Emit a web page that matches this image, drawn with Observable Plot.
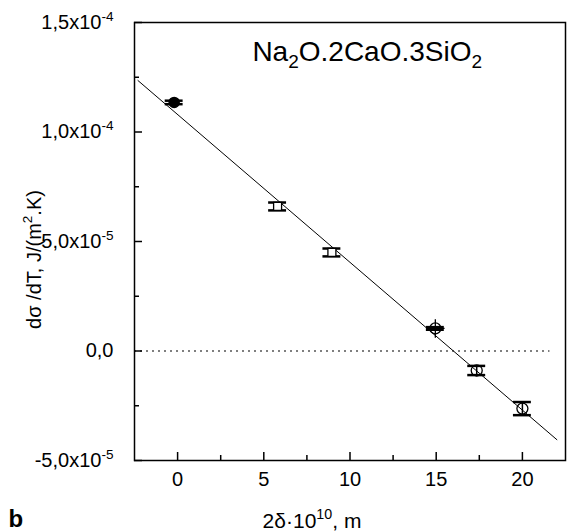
<!DOCTYPE html>
<html><head><meta charset="utf-8">
<script src="https://cdn.jsdelivr.net/npm/d3@7"></script>
<script src="https://cdn.jsdelivr.net/npm/@observablehq/plot@0.6"></script>
<style>body{margin:0;background:#fff}</style>
</head><body><div id="chart"></div>
<script>
// Data
const xs = [-0.2, 5.8, 8.95, 14.95, 17.35, 20.0];
const ys = [1.135e-4, 6.6e-5, 4.5e-5, 1.03e-5, -8.9e-6, -2.63e-5];
const errs = [0.8e-6, 1.8e-6, 1.8e-6, 0.6e-6, 2.1e-6, 3.0e-6];
const markers = ["filled", "square", "square", "crossed", "circle", "circle"];

const fitX = [-2.3, 22.0];
const fitY = [1.235e-4, -4.05e-5];

const zeroX = [-2.5, 21.6];

const xMajor = [0, 5, 10, 15, 20];
const xMinor = [2.5, 7.5, 12.5, 17.5];
const yMajor = [1.5e-4, 1.0e-4, 5.0e-5, 0, -5.0e-5];
const yLabels = ["1,5x10^{-4}", "1,0x10^{-4}", "5,0x10^{-5}", "0,0", "-5,0x10^{-5}"];
const yMinor = [1.25e-4, 7.5e-5, 2.5e-5, -2.5e-5];

const title = "Na_{2}O.2CaO.3SiO_{2}";
const xLabel = "2δ·10^{10}, m";
const yLabel = "dσ /dT, J/(m^{2}.K)";
const panel = "b";

const points = xs.map((x, i) => ({x, y: ys[i], err: errs[i], marker: markers[i]}));
const fit = fitX.map((x, i) => ({x, y: fitY[i]}));
const yLabelMap = new Map(yMajor.map((v, i) => [v, yLabels[i]]));
const capHalf = 0.52;

const W = 569, H = 531, ML = 134, MR = 4, MT = 22, MB = 71;
const frameW = W - ML - MR, frameH = H - MT - MB;

const chart = Plot.plot({
  width: W,
  height: H,
  marginLeft: ML,
  marginRight: MR,
  marginTop: MT,
  marginBottom: MB,
  style: {fontFamily: "Arial, 'Liberation Sans', sans-serif", fontSize: "20px", color: "black", background: "white"},
  x: {domain: [-2.5, 22.5], axis: null},
  y: {domain: [-5e-5, 1.5e-4], axis: null},
  marks: [
    Plot.ruleY([0], {x1: zeroX[0], x2: zeroX[1], stroke: "black", strokeWidth: 1.2, strokeDasharray: "2,4"}),
    Plot.line(fit, {x: "x", y: "y", stroke: "black", strokeWidth: 1}),
    Plot.ruleX(points, {x: "x", y1: d => d.y - d.err, y2: d => d.y + d.err, stroke: "black", strokeWidth: 1.5}),
    Plot.ruleY(points, {y: d => d.y + d.err, x1: d => d.x - capHalf, x2: d => d.x + capHalf, stroke: "black", strokeWidth: 2.5}),
    Plot.ruleY(points, {y: d => d.y - d.err, x1: d => d.x - capHalf, x2: d => d.x + capHalf, stroke: "black", strokeWidth: 2.5}),
    Plot.dot(points.filter(d => d.marker === "filled"), {x: "x", y: "y", r: 5, symbol: "circle", fill: "black", stroke: "black"}),
    Plot.dot(points.filter(d => d.marker === "square"), {x: "x", y: "y", r: 4.5, symbol: "square", fill: "white", stroke: "black", strokeWidth: 1.3}),
    Plot.dot(points.filter(d => d.marker === "circle" || d.marker === "crossed"), {x: "x", y: "y", r: 5.5, symbol: "circle", fill: "none", stroke: "black", strokeWidth: 1.3}),
    Plot.dot(points.filter(d => d.marker === "crossed"), {x: "x", y: "y", r: 6, symbol: "plus", stroke: "black", strokeWidth: 1.3}),
    Plot.text([title], {x: 11.0, y: 1.363e-4, text: d => d, fontSize: 28, textAnchor: "middle"}),
    Plot.text([panel], {frameAnchor: "bottom-left", dx: -126, dy: 66, text: d => d, fontSize: 24, fontWeight: "bold", textAnchor: "start", lineAnchor: "bottom"}),
    // inward ticks
    Plot.tickX(xMajor, {x: d => d, insetTop: frameH - 8, stroke: "black", strokeWidth: 1.5}),
    Plot.tickX(xMinor, {x: d => d, insetTop: frameH - 5, stroke: "black", strokeWidth: 1.5}),
    Plot.tickY(yMajor, {y: d => d, insetRight: frameW - 8, stroke: "black", strokeWidth: 1.5}),
    Plot.tickY(yMinor, {y: d => d, insetRight: frameW - 5, stroke: "black", strokeWidth: 1.5}),
    // tick labels
    Plot.axisX(xMajor, {tickSize: 0, tickPadding: 11, fontSize: 20, label: null}),
    Plot.axisY(yMajor, {tickSize: 0, tickPadding: 21, fontSize: 20, tickFormat: d => yLabelMap.get(d), label: null}),
    // axis titles
    Plot.text([xLabel], {frameAnchor: "bottom", dx: -38, dy: 67, text: d => d, fontSize: 21, textAnchor: "middle", lineAnchor: "bottom"}),
    Plot.text([yLabel], {frameAnchor: "left", dx: -94, dy: 18, rotate: -90, text: d => d, fontSize: 20, textAnchor: "middle", lineAnchor: "bottom"}),
    Plot.frame({stroke: "black", strokeWidth: 1.5})
  ]
});

// Turn ^{..} and _{..} markup into real superscript / subscript tspans
function richify(svg) {
  svg.querySelectorAll("text").forEach(el => {
    const targets = el.querySelectorAll("tspan").length ? [...el.querySelectorAll("tspan")] : [el];
    targets.forEach(t => {
      const s = t.textContent;
      if (!/[\^_]\{/.test(s)) return;
      const base = parseFloat(getComputedStyle(t).fontSize) || 20;
      const parts = s.split(/(\^\{[^}]*\}|_\{[^}]*\})/).filter(p => p !== "");
      t.textContent = "";
      let shift = 0;
      parts.forEach(p => {
        const ts = document.createElementNS("http://www.w3.org/2000/svg", "tspan");
        let target = 0, txt = p, small = false;
        if (p.startsWith("^{")) { target = -0.42 * base; txt = p.slice(2, -1); small = true; }
        else if (p.startsWith("_{")) { target = 0.25 * base; txt = p.slice(2, -1); small = true; }
        const dy = target - shift;
        if (dy !== 0) ts.setAttribute("dy", dy + "px");
        if (small) ts.setAttribute("font-size", (0.68 * base) + "px");
        ts.textContent = txt;
        t.appendChild(ts);
        shift = target;
      });
    });
  });
}

document.getElementById("chart").appendChild(chart);
richify(chart);
</script>
</body></html>
